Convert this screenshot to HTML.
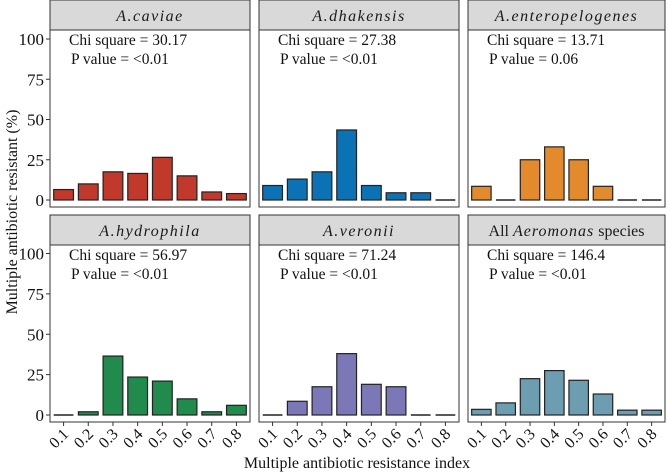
<!DOCTYPE html>
<html><head><meta charset="utf-8"><style>
html,body{margin:0;padding:0;background:#fff}
svg{display:block;font-family:"Liberation Serif",serif}
</style></head><body>
<svg id="c" width="669" height="473" viewBox="0 0 669 473"></svg>
<script>
const categories=["0.1","0.2","0.3","0.4","0.5","0.6","0.7","0.8"];
const yTicks=[0,25,50,75,100];
const panelTitles=["A.caviae","A.dhakensis","A.enteropelogenes","A.hydrophila","A.veronii","All Aeromonas species"];
const chiValues=["30.17","27.38","13.71","56.97","71.24","146.4"];
const pValues=["<0.01","<0.01","0.06","<0.01","<0.01","<0.01"];
const caviae=[6.5,10,17.5,16.5,26.5,15,5,4];
const dhakensis=[9,13,17.5,43.5,9,4.5,4.5,0];
const enteropelogenes=[8.5,0,25,33,25,8.5,0,0];
const hydrophila=[0,2,36.5,23.5,21,10,2,6];
const veronii=[0,8.5,17.5,38,19,17.5,0,0];
const allSpecies=[3.5,7.5,22.5,27.5,21.5,13,3,3];
const series=[caviae,dhakensis,enteropelogenes,hydrophila,veronii,allSpecies];
const colors=["#c0392b","#0b72b5","#e38b2c","#218a4d","#7c78b8","#6d9db1"];
const NS="http://www.w3.org/2000/svg";
const svg=document.getElementById('c');
function mk(t,a,p){const e=document.createElementNS(NS,t);for(const k in a)e.setAttribute(k,a[k]);(p||svg).appendChild(e);return e;}
const px=[50,259,468],pw=[200,200,197];
const rows=[{st:0,pt:30,pb:207,y0:200,y100:39},{st:215,pt:245,pb:422,y0:415,y100:253.5}];
for(let i=0;i<6;i++){
  const r=rows[Math.floor(i/3)],c=i%3,x0=px[c],w=pw[c];
  const g=mk('g',{});
  
  
  const yS=v=>r.y0-(r.y0-r.y100)*v/100;
  const step=w/8.1;
  const xS=k=>x0+step*(k+0.55);
  const strip=mk('rect',{x:x0,y:r.st,width:w,height:r.pt-r.st,fill:'#d9d9d9',stroke:'#333','stroke-width':1},g);
  
  
  const tt=mk('text',{x:x0+w/2,y:r.st+21,'text-anchor':'middle','font-size':16,fill:'#1a1a1a'},g);
  
  
  if(i===5){tt.innerHTML='All <tspan font-style="italic" letter-spacing="1">Aeromonas</tspan> species';}
  else{tt.textContent=panelTitles[i];tt.setAttribute('font-style','italic');tt.setAttribute('letter-spacing','1.5');}
  mk('rect',{x:x0,y:r.pt,width:w,height:r.pb-r.pt,fill:'#fff',stroke:'#333','stroke-width':1},g);
  series[i].forEach((v,k)=>{
    let b;
    if(v<=0){
      b=mk('line',{x1:xS(k)-step*0.4,x2:xS(k)+step*0.4,y1:r.y0,y2:r.y0,stroke:'#222','stroke-width':1.4},g);
    }else{
      b=mk('rect',{x:xS(k)-step*0.4,y:yS(v),width:step*0.8,height:r.y0-yS(v),fill:colors[i],stroke:'#222','stroke-width':1.2},g);
    }
    
    
  });
  const t1=mk('text',{x:x0+19,y:r.pt+15,'font-size':15.5,fill:'#111'},g);
  t1.textContent='Chi square = '+chiValues[i];
  
  
  const t2=mk('text',{x:x0+21,y:r.pt+34,'font-size':15.5,fill:'#111'},g);
  t2.textContent='P value = '+pValues[i];
  
  
  if(c===0){yTicks.forEach(v=>{
    mk('line',{x1:x0-4,x2:x0,y1:yS(v),y2:yS(v),stroke:'#333'},g);
    const l=mk('text',{x:x0-6,y:yS(v)+6,'text-anchor':'end','font-size':17,fill:'#111'},g);
    l.textContent=v;
    
    
  });}
  if(i>=3){categories.forEach((cat,k)=>{
    mk('line',{x1:xS(k),x2:xS(k),y1:r.pb,y2:r.pb+4,stroke:'#333'},g);
    const l=mk('text',{x:xS(k)+6,y:r.pb+13,'text-anchor':'end','font-size':16,fill:'#111',transform:`rotate(-45 ${xS(k)+6} ${r.pb+13})`},g);
    l.textContent=cat;
    
    
  });}
}
const xt=mk('text',{x:357,y:468,'text-anchor':'middle','font-size':16,fill:'#111'});
xt.textContent='Multiple antibiotic resistance index';


const yt=mk('text',{x:17,y:212,'text-anchor':'middle','font-size':16,fill:'#111',transform:'rotate(-90 17 212)'});
yt.textContent='Multiple antibiotic resistant (%)';


</script>
</body></html>
